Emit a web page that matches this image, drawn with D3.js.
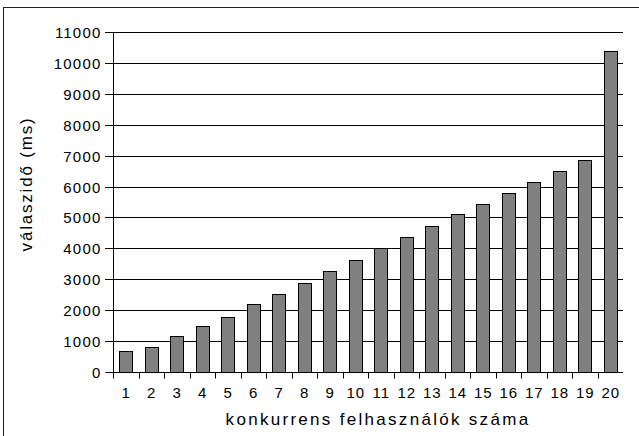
<!DOCTYPE html>
<html>
<head>
<meta charset="utf-8">
<script src="https://cdn.jsdelivr.net/npm/d3@7"></script>
<style>
  html, body { margin: 0; padding: 0; background: #fff; }
  svg { display: block; }
  text { font-family: "Liberation Sans", Arial, sans-serif; fill: #000; }
</style>
</head>
<body>
<svg id="chart" width="639" height="436"></svg>
<script>
const categories = ["1","2","3","4","5","6","7","8","9","10","11","12","13","14","15","16","17","18","19","20"];
const values = [690, 820, 1175, 1490, 1770, 2210, 2525, 2890, 3260, 3615, 4000, 4370, 4735, 5100, 5430, 5785, 6140, 6495, 6860, 10380];
const yTicks = [0,1000,2000,3000,4000,5000,6000,7000,8000,9000,10000,11000];
const xTitle = "konkurrens felhasználók száma";
const yTitle = "válaszidő (ms)";

(function () {
const svg = d3.select("#chart");
const pLeft = 113, pRight = 623, pTop = 32, pBottom = 372;

// outer frame
svg.append("rect")
  .attr("x", 3.5).attr("y", 7.5).attr("width", 700).attr("height", 500)
  .attr("fill", "none").attr("stroke", "#222").attr("stroke-width", 1);

const xb = d3.scaleBand().domain(categories).range([pLeft, pRight]);
const y = d3.scaleLinear().domain([0, 11000]).range([pBottom, pTop]);

// gridlines
svg.append("g").selectAll("line").data(yTicks.filter(d => d > 0)).join("line")
  .attr("x1", pLeft - 8).attr("x2", pRight)
  .attr("y1", d => Math.round(y(d)) + 0.5).attr("y2", d => Math.round(y(d)) + 0.5)
  .attr("stroke", "#000").attr("stroke-width", 1);

// bars
svg.append("g").selectAll("rect").data(values).join("rect")
  .attr("x", (d, i) => Math.round(xb(categories[i]) + xb.bandwidth() / 2 - 6.5) + 0.5)
  .attr("width", 13)
  .attr("y", d => Math.round(y(d)) + 0.5)
  .attr("height", d => Math.round(pBottom) - Math.round(y(d)))
  .attr("fill", "#808080").attr("stroke", "#000").attr("stroke-width", 1);

// y axis
const yAxis = d3.axisLeft(y).tickValues(yTicks).tickSize(8).tickPadding(4).tickFormat(d3.format("d"));
const gy = svg.append("g").attr("transform", `translate(${pLeft + 0.5},0)`).call(yAxis);
gy.select(".domain").attr("d", `M0,${pTop}V${pBottom + 0.5}`).attr("stroke", "#000");
gy.selectAll(".tick line").attr("stroke", "#000");
gy.selectAll(".tick").attr("transform", d => `translate(0,${Math.round(y(d)) + 0.5})`);
gy.selectAll(".tick text").attr("font-size", 15).attr("letter-spacing", "1.2px")
  .attr("font-family", "'Liberation Sans', Arial, sans-serif").attr("fill", "#000").attr("dy", "0.36em");

// x axis
const gx = svg.append("g").attr("transform", `translate(0,${pBottom + 0.5})`);
gx.append("line").attr("x1", pLeft).attr("x2", pRight).attr("stroke", "#000");
gx.selectAll("line.tk").data(categories).join("line").attr("class", "tk")
  .attr("x1", d => Math.round(xb(d)) + 0.5).attr("x2", d => Math.round(xb(d)) + 0.5)
  .attr("y1", 0).attr("y2", 6).attr("stroke", "#000");
gx.selectAll("text").data(categories).join("text")
  .attr("x", d => xb(d) + xb.bandwidth() / 2 + 0.5)
  .attr("y", 25)
  .attr("text-anchor", "middle").attr("font-size", 15).attr("letter-spacing", "1px")
  .text(d => d);

// titles
svg.append("text").attr("x", 378).attr("y", 425).attr("text-anchor", "middle")
  .attr("font-size", 17).attr("letter-spacing", "2.3px").text(xTitle);
svg.append("text").attr("transform", "translate(32,184) rotate(-90)").attr("text-anchor", "middle")
  .attr("font-size", 17).attr("letter-spacing", "1.8px").text(yTitle);
})();
</script>
</body>
</html>
